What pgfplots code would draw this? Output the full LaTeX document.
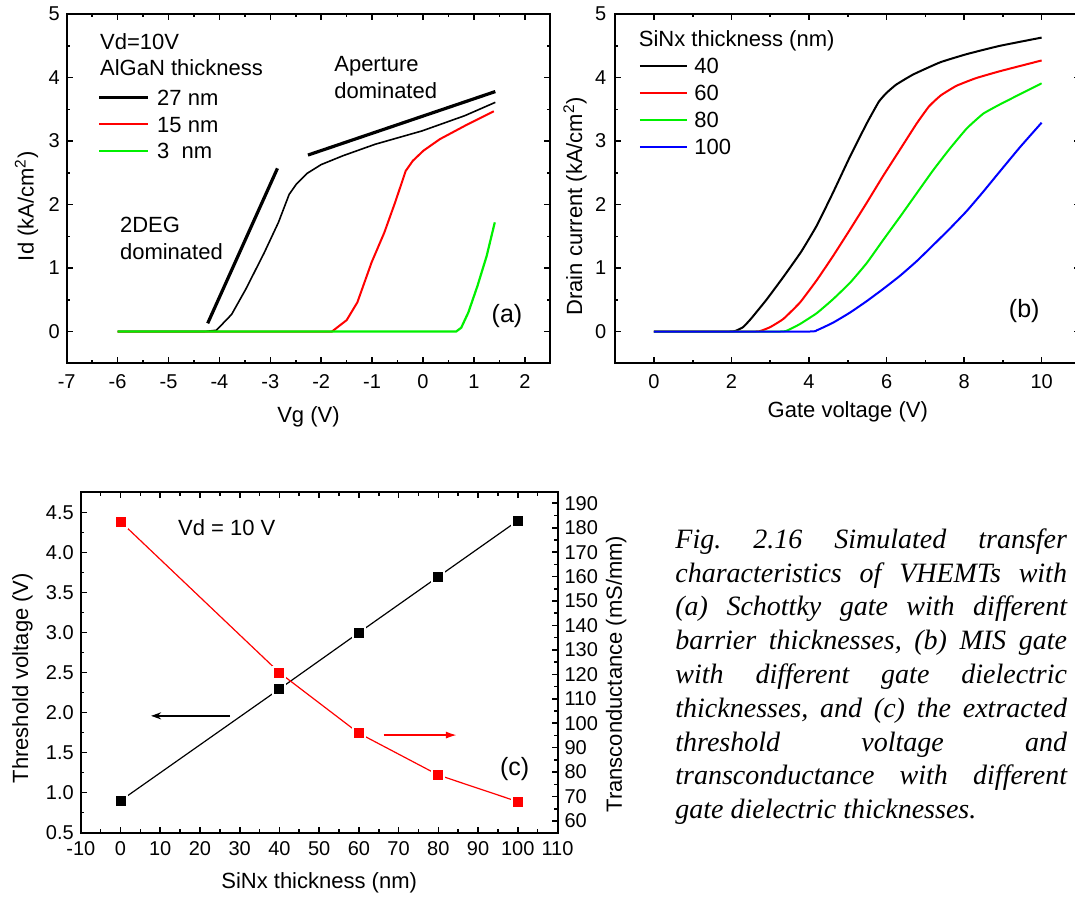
\documentclass[border=0pt]{standalone}
\usepackage{fontspec}
\setmainfont{Liberation Sans}
\newfontfamily\capfont{Liberation Serif}
\usepackage{pgfplots}
\pgfplotsset{compat=1.18}
\usetikzlibrary{arrows.meta}
\definecolor{mygreen}{RGB}{0,240,0}
\definecolor{myred}{RGB}{255,0,0}
\definecolor{myblue}{RGB}{0,0,255}
\newcommand\tfont{\fontsize{10}{12}\selectfont}
\newcommand\lfont{\fontsize{11}{13}\selectfont}
\newcommand\pfont{\fontsize{12.5}{15}\selectfont}
\frenchspacing
\pgfplotsset{
  myax/.style={scale only axis, anchor=south west,
    axis line style={line width=1pt},
    tick style={black, line width=0.8pt},
    tick align=inside, major tick length=3pt, minor tick length=1.6pt,
    tick label style={font=\tfont},
    label style={font=\lfont},
    /pgf/number format/assume math mode=true},
}
\tikzset{ann/.style={font=\lfont, inner sep=0pt}}
\begin{document}
\begin{tikzpicture}
\useasboundingbox (0pt,0pt) rectangle (537.5pt,449.5pt);
% ---------------- panel (a)
\begin{axis}[myax, at={(33.35pt,267.85pt)}, width=241.8pt, height=174.6pt,
  xmin=-7, xmax=2.5, ymin=-0.5, ymax=5,
  xtick={-7,-6,-5,-4,-3,-2,-1,0,1,2}, ytick={0,1,2,3,4,5},
  minor x tick num=1, minor y tick num=1,
  xticklabel style={yshift=-2pt},
  xlabel={Vg (V)}, ylabel={Id (kA/cm\textsuperscript{2})},
  xlabel style={at={(axis description cs:0.5,-0.153)}, anchor=center},
  ylabel style={at={(axis description cs:-0.083,0.45)}, anchor=center},
  legend cell align=left,
  legend image code/.code={\draw[#1] (0pt,0pt) -- (24.2pt,0pt);},
  legend style={draw=none, fill=none, at={(axis cs:-6.40,3.265)}, anchor=west,
    inner sep=0pt, row sep=5.45pt, font=\lfont,
    nodes={inner sep=0pt, text height=7.9pt, text depth=0pt},
    /tikz/every odd column/.append style={column sep=4pt}},
]
\addlegendimage{black, line width=1.6pt}\addlegendentry{27 nm}
\addlegendimage{myred, line width=1pt}\addlegendentry{15 nm}
\addlegendimage{mygreen, line width=1pt}\addlegendentry{3\ \ nm}
\addplot[forget plot, black, line width=0.8pt] coordinates {(-6,0) (-4.3,0) (-4.06,0.02) (-3.76,0.27) (-3.48,0.67) (-3.12,1.24) (-2.84,1.72) (-2.63,2.16) (-2.49,2.32) (-2.28,2.49) (-2.0,2.63) (-1.57,2.77) (-0.94,2.95) (-0.02,3.16) (0.82,3.40) (1.42,3.61)};
\addplot[forget plot, myred, line width=1pt] coordinates {(-6,0) (-1.79,0) (-1.50,0.18) (-1.29,0.46) (-1.01,1.09) (-0.76,1.56) (-0.55,2.03) (-0.34,2.53) (-0.20,2.69) (0.01,2.85) (0.33,3.03) (0.82,3.24) (1.39,3.47)};
\addplot[forget plot, mygreen, line width=1.1pt] coordinates {(-6,0) (0.65,0) (0.75,0.06) (0.89,0.30) (1.07,0.72) (1.25,1.19) (1.41,1.72)};
\addplot[forget plot, black, line width=1.6pt] coordinates {(-4.23,0.13) (-2.86,2.57)};
\addplot[forget plot, black, line width=1.6pt] coordinates {(-2.26,2.78) (1.42,3.78)};
\node[ann, anchor=base west] at (axis cs:-6.35,4.45) {Vd=10V};
\node[ann, anchor=base west] at (axis cs:-6.35,4.03) {AlGaN thickness};
\node[ann, anchor=base west] at (axis cs:-1.75,4.09) {Aperture};
\node[ann, anchor=base west] at (axis cs:-1.75,3.67) {dominated};
\node[ann, anchor=base west] at (axis cs:-5.96,1.56) {2DEG};
\node[ann, anchor=base west] at (axis cs:-5.96,1.14) {dominated};
\node[ann, font=\pfont] at (axis cs:1.65,0.24) {(a)};
\end{axis}
% ---------------- panel (b)
\begin{axis}[myax, at={(307.6pt,267.85pt)}, width=232.6pt, height=174.6pt,
  xmin=-1, xmax=11, ymin=-0.5, ymax=5,
  xtick={0,2,4,6,8,10}, ytick={0,1,2,3,4,5},
  minor x tick num=1, minor y tick num=1,
  xticklabel style={yshift=-2pt}, yticklabel style={xshift=-1pt},
  xlabel={Gate voltage (V)}, ylabel={Drain current (kA/cm\textsuperscript{2})},
  xlabel style={at={(axis description cs:0.5,-0.139)}, anchor=center},
  ylabel style={at={(axis description cs:-0.0864,0.45)}, anchor=center},
  legend cell align=left,
  legend image code/.code={\draw[#1] (0pt,0pt) -- (23.65pt,0pt);},
  legend style={draw=none, fill=none, at={(axis cs:-0.40,3.545)}, anchor=west,
    inner sep=0pt, row sep=5.6pt, font=\lfont,
    nodes={inner sep=0pt, text height=7.9pt, text depth=0pt},
    /tikz/every odd column/.append style={column sep=3.1pt}},
]
\addlegendimage{black, line width=1pt}\addlegendentry{40}
\addlegendimage{myred, line width=1pt}\addlegendentry{60}
\addlegendimage{mygreen, line width=1pt}\addlegendentry{80}
\addlegendimage{myblue, line width=1pt}\addlegendentry{100}
\addplot[forget plot, black, line width=1pt, smooth, tension=0.25] coordinates {(0,0) (1.9,0) (2.1,0.01) (2.3,0.07) (2.5,0.2) (2.9,0.5) (3.35,0.87) (3.8,1.26) (4.2,1.67) (4.62,2.19) (5.06,2.76) (5.49,3.28) (5.8,3.62) (6.0,3.76) (6.25,3.89) (6.69,4.05) (7.38,4.24) (8.07,4.37) (8.92,4.50) (10,4.63)};
\addplot[forget plot, myred, line width=1pt, smooth, tension=0.25] coordinates {(0,0) (2.55,0) (2.75,0.01) (3.0,0.07) (3.34,0.2) (3.77,0.46) (4.20,0.81) (4.62,1.19) (5.06,1.61) (5.49,2.03) (5.91,2.45) (6.35,2.87) (6.78,3.28) (7.1,3.55) (7.4,3.72) (7.8,3.87) (8.3,3.99) (8.92,4.10) (10,4.27)};
\addplot[forget plot, mygreen, line width=1pt, smooth, tension=0.25] coordinates {(0,0) (3.2,0) (3.45,0.02) (3.77,0.12) (4.20,0.29) (4.62,0.51) (5.06,0.77) (5.49,1.08) (5.91,1.44) (6.35,1.81) (6.78,2.18) (7.20,2.54) (7.63,2.88) (8.07,3.2) (8.49,3.43) (8.9,3.57) (9.35,3.71) (10,3.91)};
\addplot[forget plot, myblue, line width=1pt, smooth, tension=0.25] coordinates {(0,0) (3.95,0) (4.2,0.02) (4.62,0.14) (5.06,0.30) (5.49,0.48) (5.91,0.67) (6.35,0.88) (6.78,1.11) (7.20,1.36) (7.63,1.62) (8.07,1.90) (8.49,2.20) (8.92,2.52) (9.45,2.91) (10,3.29)};
\node[ann, anchor=base west] at (axis cs:-0.40,4.49) {SiNx thickness (nm)};
\node[ann, font=\pfont] at (axis cs:9.55,0.32) {(b)};
\end{axis}
% ---------------- panel (c)
\begin{axis}[myax, at={(40.4pt,33.15pt)}, width=238.35pt, height=170.2pt,
  xmin=-10, xmax=110, ymin=0.5, ymax=4.754,
  xtick={-10,0,10,20,30,40,50,60,70,80,90,100,110},
  ytick={0.5,1.0,1.5,2.0,2.5,3.0,3.5,4.0,4.5},
  minor x tick num=1, minor y tick num=1, ytick pos=left,
  xticklabel style={yshift=-1pt},
  yticklabel style={/pgf/number format/.cd, fixed, fixed zerofill, precision=1},
  xlabel={SiNx thickness (nm)}, ylabel={Threshold voltage (V)},
  xlabel style={at={(axis description cs:0.5,-0.148)}, anchor=center},
  ylabel style={at={(axis description cs:-0.1225,0.454)}, anchor=center},
]
\addplot[black, line width=0.6pt, mark=square*, mark size=3pt,
  mark options={fill=black, draw=white, line width=1pt}] coordinates {(0,0.9) (40,2.296) (60,3.0) (80,3.7) (100,4.4)};
\draw[black, line width=0.9pt, -{Stealth[length=5pt,width=3.5pt]}] (axis cs:27.6,1.96) -- (axis cs:7.7,1.96);
\draw[myred, line width=0.9pt, -{Latex[length=5.5pt,width=3.5pt]}] (axis cs:66.2,1.72) -- (axis cs:84.7,1.72);
\node[ann, anchor=base west] at (axis cs:14.4,4.21) {Vd = 10 V};
\node[ann, font=\pfont] at (axis cs:99.2,1.30) {(c)};
\end{axis}
\begin{axis}[myax, at={(40.4pt,33.15pt)}, width=238.35pt, height=170.2pt,
  xmin=-10, xmax=110, ymin=55.2, ymax=194.5,
  axis x line=none, axis y line*=right,
  ytick={60,70,80,90,100,110,120,130,140,150,160,170,180,190},
  minor y tick num=1,
  ylabel={Transconductance (mS/mm)},
  ylabel style={at={(axis description cs:1.123,0.466)}, anchor=center},
]
\addplot[myred, line width=0.6pt, mark=square*, mark size=3pt,
  mark options={fill=myred, draw=white, line width=1pt}] coordinates {(0,182.5) (40,120.7) (60,95.9) (80,78.8) (100,67.9)};
\end{axis}
% ---------------- caption
\node[anchor=base west, inner sep=0pt] at (337.5pt,175.35pt) {\capfont\itshape\fontsize{14}{16.9}\selectfont
\begin{minipage}[t]{195.8pt}\baselineskip=16.9pt
\makebox[\linewidth][s]{Fig. 2.16 Simulated transfer}\par
\makebox[\linewidth][s]{characteristics of VHEMTs with}\par
\makebox[\linewidth][s]{(a) Schottky gate with different}\par
\makebox[\linewidth][s]{barrier thicknesses, (b) MIS gate}\par
\makebox[\linewidth][s]{with different gate dielectric}\par
\makebox[\linewidth][s]{thicknesses, and (c) the extracted}\par
\makebox[\linewidth][s]{threshold voltage and}\par
\makebox[\linewidth][s]{transconductance with different}\par
\makebox[\linewidth][l]{gate dielectric thicknesses.}
\end{minipage}};
\end{tikzpicture}
\end{document}
